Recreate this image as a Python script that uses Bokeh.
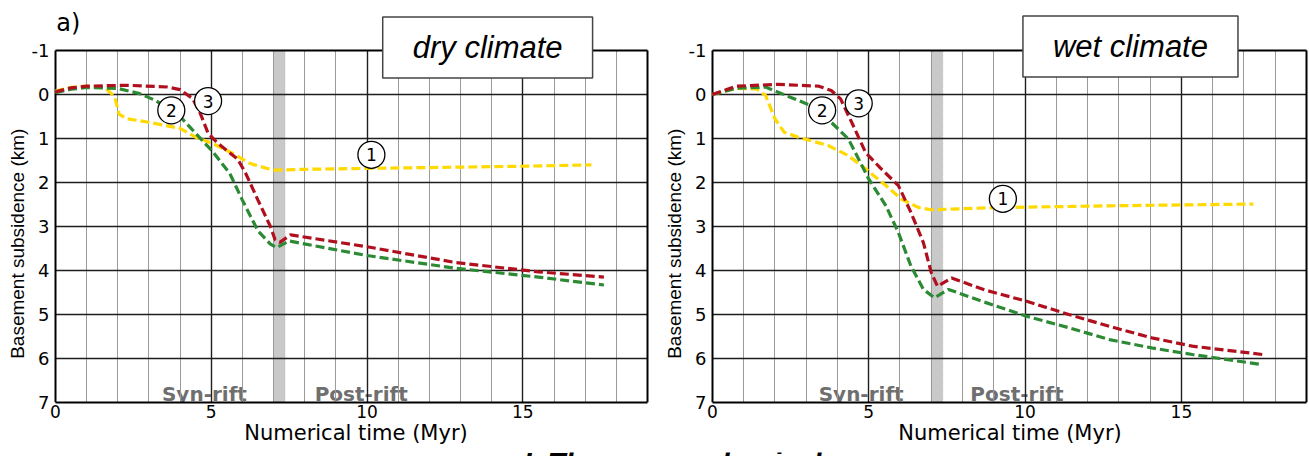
from bokeh.plotting import figure
from bokeh.models import Range1d, FixedTicker, Grid, BoxAnnotation, Label, ColumnDataSource
from bokeh.layouts import row, column
from bokeh.core.properties import value
from bokeh.embed import file_html
from bokeh.resources import INLINE

FONT = "Liberation Sans"
WIDE = "DejaVu Sans"

# ---- data (numerical time in Myr, basement subsidence in km) ----
# dry climate
dry_t1 = [0, 0.5, 1.0, 1.6, 1.9, 2.05, 2.3, 2.9, 3.5, 4.0, 4.5, 5.0, 5.7, 6.25, 6.8, 7.0, 8.0, 10.0, 12.0, 15.0, 17.2]
dry_d1 = [-0.08, -0.16, -0.19, -0.15, 0.05, 0.45, 0.55, 0.62, 0.7, 0.77, 0.97, 1.1, 1.34, 1.57, 1.68, 1.72, 1.7, 1.68, 1.66, 1.63, 1.6]
dry_t2 = [0, 0.5, 1.0, 2.0, 2.7, 3.2, 4.0, 4.5, 5.05, 5.6, 6.0, 6.5, 6.9, 7.1, 7.5, 10.0, 12.85, 15.5, 17.6]
dry_d2 = [-0.04, -0.12, -0.16, -0.14, -0.02, 0.13, 0.5, 0.88, 1.3, 1.8, 2.4, 3.1, 3.4, 3.48, 3.33, 3.66, 3.95, 4.15, 4.33]
dry_t3 = [0, 0.5, 1.0, 2.3, 3.6, 4.0, 4.4, 4.65, 4.9, 5.2, 5.85, 6.1, 6.5, 6.9, 7.05, 7.2, 7.55, 10.0, 12.85, 15.5, 17.6]
dry_d3 = [-0.06, -0.15, -0.19, -0.21, -0.17, -0.11, 0.09, 0.43, 0.88, 1.1, 1.47, 1.78, 2.4, 3.0, 3.3, 3.36, 3.19, 3.46, 3.82, 4.03, 4.15]

# wet climate
wet_t1 = [0, 0.76, 1.4, 1.7, 2.0, 2.3, 2.75, 3.7, 4.35, 4.9, 5.55, 6.05, 6.6, 7.0, 9.1, 12.7, 17.3]
wet_d1 = [0, -0.14, -0.13, 0.02, 0.55, 0.86, 0.97, 1.16, 1.39, 1.69, 2.07, 2.38, 2.57, 2.62, 2.57, 2.53, 2.49]
wet_t2 = [0, 0.76, 1.7, 2.35, 3.15, 3.8, 4.35, 5.0, 5.55, 5.95, 6.35, 6.75, 7.1, 7.55, 8.75, 10.05, 11.4, 12.7, 14.05, 15.35, 17.6]
wet_d2 = [0, -0.14, -0.17, 0.02, 0.25, 0.63, 1.01, 1.92, 2.53, 3.14, 3.9, 4.43, 4.62, 4.43, 4.73, 5.04, 5.3, 5.57, 5.76, 5.91, 6.14]
wet_t3 = [0, 0.76, 2.1, 3.4, 3.8, 4.1, 4.5, 4.9, 5.4, 5.95, 6.35, 6.75, 7.0, 7.2, 7.65, 8.7, 10.05, 11.4, 12.7, 14.05, 15.35, 17.6]
wet_d3 = [0, -0.19, -0.23, -0.19, -0.09, 0.1, 0.7, 1.32, 1.69, 2.07, 2.68, 3.37, 4.05, 4.36, 4.17, 4.44, 4.7, 5.0, 5.27, 5.53, 5.72, 5.91]

# circled curve numbers
circle_text = ["1", "2", "3"]
dry_circle_x = [10.14, 3.72, 4.9]
dry_circle_y = [1.37, 0.36, 0.15]
wet_circle_x = [9.29, 3.51, 4.68]
wet_circle_y = [2.37, 0.36, 0.2]

# end of rifting (grey band)
rift_start = 7.0
rift_end = 7.37

phase_text = ["Syn-rift", "Post-rift"]
dry_phase_x = [3.42, 8.32]
wet_phase_x = [3.4, 8.25]
phase_y = [6.8, 6.8]

x_ticks = [0, 5, 10, 15]
y_ticks = [-1, 0, 1, 2, 3, 4, 5, 6, 7]
t_max = 19
d_top, d_bottom = -1, 7

YELLOW = "#ffd900"
GREEN = "#2b8a33"
RED = "#b0101e"
DARK = "#1e1e1e"

# no-break spaces keep the rotated axis title low, as in the source
Y_TITLE = "Basement subsidence (km)" + "\u00a0" * 16


def make_panel(title, box_x, box_y, curves, cx, cy, px, width, b_left, x_end):
    # the frame reaches the top of the canvas so the title box is not clipped;
    # the visible box of the chart is drawn by grid lines and the x axis
    p = figure(width=width, height=448, x_range=Range1d(-0.06, x_end),
               y_range=Range1d(d_bottom, d_top - 50 / 44),
               output_backend="svg", toolbar_location=None,
               min_border_left=b_left, min_border_right=0,
               min_border_top=0, min_border_bottom=46)
    p.outline_line_color = None

    p.xgrid.ticker = FixedTicker(ticks=list(range(1, t_max)))
    p.xgrid.grid_line_color = "#9a9a9a"
    p.xgrid.grid_line_width = 1
    p.xgrid.bounds = (-1, t_max + 1)
    p.xgrid.cross_bounds = (d_top, d_bottom)
    p.add_layout(Grid(dimension=0, ticker=FixedTicker(ticks=x_ticks[1:]), bounds=(-1, t_max + 1),
                      cross_bounds=(d_top, d_bottom), grid_line_color=DARK, grid_line_width=1.4))
    p.add_layout(Grid(dimension=0, ticker=FixedTicker(ticks=[0, t_max]), bounds=(-1, t_max + 1),
                      cross_bounds=(d_top, d_bottom), grid_line_color="black", grid_line_width=2))
    p.ygrid.ticker = FixedTicker(ticks=y_ticks[1:-1])
    p.ygrid.grid_line_color = DARK
    p.ygrid.grid_line_width = 1.4
    p.ygrid.bounds = (-3, 9)
    p.ygrid.cross_bounds = (0, t_max)
    p.add_layout(Grid(dimension=1, ticker=FixedTicker(ticks=[d_top]), bounds=(-3, 9),
                      cross_bounds=(0, t_max), grid_line_color="black", grid_line_width=2))

    p.xaxis.ticker = FixedTicker(ticks=x_ticks)
    p.xaxis.bounds = (0, t_max)
    p.yaxis.ticker = FixedTicker(ticks=y_ticks)
    p.yaxis.bounds = (d_top, d_bottom)
    p.yaxis.major_label_overrides = {-1: "-1"}
    p.yaxis.axis_line_color = None
    for ax in (p.xaxis, p.yaxis):
        ax.major_tick_out = 0
        ax.major_tick_in = 0
        ax.minor_tick_line_color = None
        ax.major_label_text_font = WIDE
        ax.major_label_text_color = "black"
        ax.axis_label_text_font_style = "normal"
        ax.axis_label_text_color = "black"
    p.xaxis.axis_line_width = 2
    p.xaxis.axis_line_color = "black"
    p.xaxis.major_label_text_font_size = "17px"
    p.yaxis.major_label_text_font_size = "18px"
    p.xaxis.axis_label_text_font = WIDE
    p.xaxis.axis_label_text_font_size = "21px"
    p.yaxis.axis_label_text_font = FONT
    p.yaxis.axis_label_text_font_size = "19px"
    p.xaxis.major_label_standoff = 2
    p.yaxis.major_label_standoff = 4
    p.xaxis.axis_label_standoff = 0
    p.yaxis.axis_label_standoff = 1
    p.xaxis.axis_label = "Numerical time (Myr)"
    p.yaxis.axis_label = Y_TITLE

    band = BoxAnnotation(left=rift_start, right=rift_end, top=d_top, bottom=d_bottom,
                         fill_color="#c9c9c9", fill_alpha=1, line_color="#808080",
                         line_width=1, line_dash="1 1", level="image")
    p.add_layout(band)

    p.text(x=px, y=phase_y, text=phase_text, text_font=value(WIDE), text_font_style="bold",
           text_font_size="20px", text_color="#6f6f6f", text_baseline="alphabetic",
           level="image")

    for (t, d), color in zip(curves, [YELLOW, GREEN, RED]):
        p.line(t, d, line_color=color, line_width=3.2, line_dash="9 4", line_cap="butt")

    src = ColumnDataSource(dict(x=cx, y=cy, label=circle_text))
    p.scatter("x", "y", source=src, size=27, fill_color="white", line_color="black", line_width=1.3)
    p.text("x", "y", text="label", source=src, text_font=value(WIDE), text_font_size="17px",
           text_align="center", text_baseline="middle", text_color="black")

    p.add_layout(Label(x=box_x, y=box_y, text=title, text_align="center", text_baseline="middle",
                       text_font=FONT, text_font_style="italic", text_font_size="31px",
                       text_color="black", background_fill_color="white",
                       border_line_color="#444444", border_line_width=1.5,
                       padding=dict(left=30, right=30, top=13, bottom=13)))
    return p


p1 = make_panel("dry climate", 13.87, -1.068,
                [(dry_t1, dry_d1), (dry_t2, dry_d2), (dry_t3, dry_d3)],
                dry_circle_x, dry_circle_y, dry_phase_x, 658, 53, 19.352)
# panel tag in the free space above the top edge of the chart
p1.add_layout(Label(x=0.03, y=-1.95, text="a)", text_font=WIDE, text_font_size="24px",
                    text_baseline="top", text_align="left", text_color="black"))

p2 = make_panel("wet climate", 13.37, -1.09,
                [(wet_t1, wet_d1), (wet_t2, wet_d2), (wet_t3, wet_d3)],
                wet_circle_x, wet_circle_y, wet_phase_x, 651, 52, 19.096)

# caption strip, cut by the bottom of the picture as in the source
p3 = figure(width=1309, height=8, x_range=Range1d(0, 1309), y_range=Range1d(8, 0),
            output_backend="svg", toolbar_location=None, x_axis_type=None, y_axis_type=None,
            min_border_left=0, min_border_right=0, min_border_top=0, min_border_bottom=0)
p3.outline_line_color = None
p3.grid.visible = False
p3.add_layout(Label(x=523, y=-5.5, text="I. Thermo-mechanical", text_font=FONT,
                    text_font_style="bold italic", text_font_size="29px",
                    text_baseline="top", text_align="left", text_color="black"))

layout = column(row(p1, p2), p3)
open("out.html", "w").write(file_html(layout, INLINE))
